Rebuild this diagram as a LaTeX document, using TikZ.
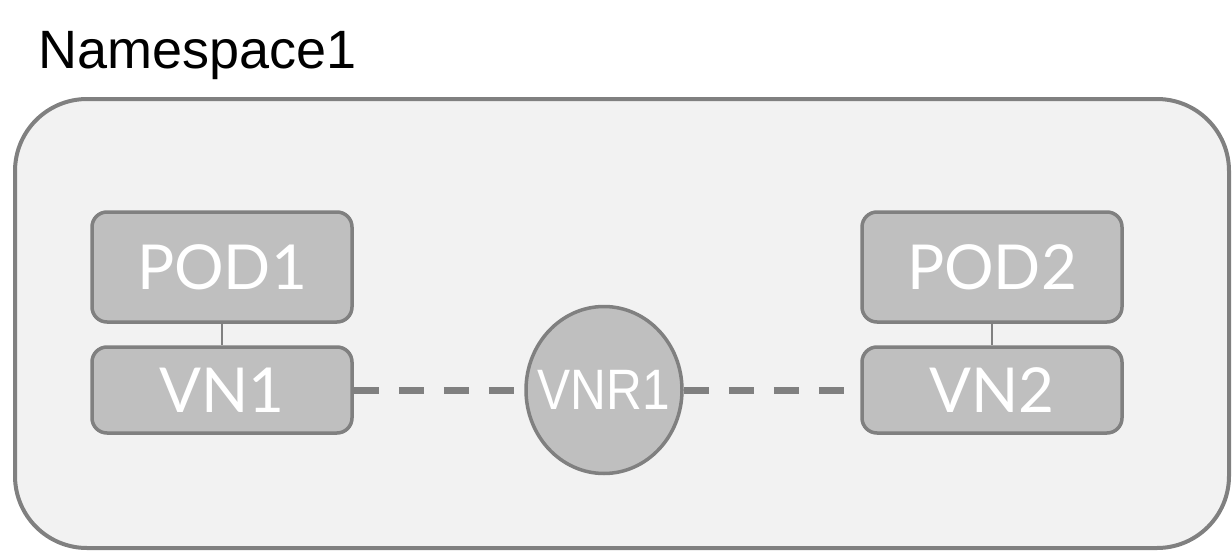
\documentclass[tikz,border=0pt]{standalone}
\usepackage{fontspec}
\setmainfont{Liberation Sans}
\newfontfamily\latofont{Lato}
\newfontfamily\arialfont{Liberation Sans}
\usetikzlibrary{shapes.geometric}
\definecolor{edgegray}{HTML}{808080}
\definecolor{boxgray}{HTML}{BFBFBF}
\definecolor{bggray}{HTML}{F2F2F2}
\tikzset{
  nsbox/.style={draw=edgegray, fill=bggray, line width=4pt, rounded corners=72pt},
  podbox/.style={draw=edgegray, fill=boxgray, line width=3.5pt, rounded corners=15pt,
    minimum width=260pt, minimum height=110pt, inner sep=0pt, text=white,
    font=\latofont\fontsize{62}{70}\selectfont},
  vnbox/.style={podbox, minimum height=86pt},
  routernode/.style={ellipse, draw=edgegray, fill=boxgray, line width=3.5pt,
    minimum width=156pt, minimum height=167pt, inner sep=0pt, text=white,
    font=\arialfont\fontsize{57}{64}\selectfont},
  thinlink/.style={draw=edgegray, line width=1.5pt},
  dashlink/.style={draw=edgegray, line width=7pt, dash pattern=on 25pt off 20pt}
}
\begin{document}
\begin{tikzpicture}[x=1pt,y=-1pt]
\useasboundingbox (0,0) rectangle (1232,554);
\draw[nsbox] (15,99) rectangle (1229,548);
\node[anchor=base west, inner sep=0pt, font=\arialfont\fontsize{54}{62}\selectfont] (title) at (38,68) {Namespace1};
\node[podbox] (pod1) at (222,267) {POD1};
\node[vnbox] (vn1) at (222,390) {VN1};
\node[podbox] (pod2) at (992,267) {POD2};
\node[vnbox] (vn2) at (992,390) {VN2};
\node[routernode] (vnr1) at (604,390) {\makebox[0pt]{\scalebox{0.87}[1]{VNR1}}};
\draw[thinlink] (pod1.south) -- (vn1.north);
\draw[thinlink] (pod2.south) -- (vn2.north);
\draw[dashlink] (vn1.east) -- (vnr1.west);
\draw[dashlink] (vnr1.east) -- (vn2.west);
\end{tikzpicture}
\end{document}
